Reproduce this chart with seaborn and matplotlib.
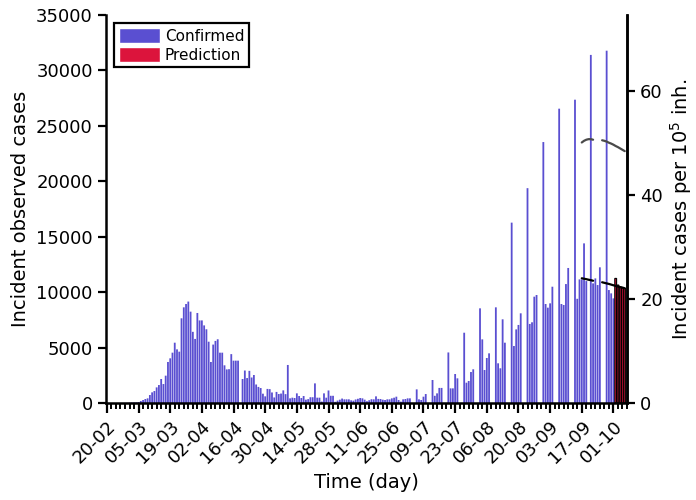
import datetime as dt
import numpy as np
import pandas as pd
import matplotlib
matplotlib.use("Agg")
import matplotlib.pyplot as plt
import seaborn as sns
from matplotlib.patches import Patch

# ---------------- data ----------------
start_date = dt.date(2020, 2, 20)

confirmed = [
    0, 0, 0, 0, 0, 1, 3, 5, 8, 13,
    30, 40, 50, 60, 90,
    180, 270, 360, 420, 720, 960, 1080, 1410, 1620, 2165, 1710, 2465, 3700, 4030,
    4540, 5440, 4840, 4630, 7640, 8630, 8930,
    9150, 8240, 6420, 5780, 8120, 7450, 7450, 7000, 6650, 5530, 3700, 5270, 5600,
    5750, 4540, 4540, 3400, 3030, 3050, 4410, 3820, 3820, 3820,
    0,
    2165, 2930, 2250, 2900, 2300, 2525, 1670, 1450, 1350, 840, 600, 1270, 1250,
    950, 500, 1000, 810, 850, 1140, 800, 3430,
    420, 480, 450, 870, 630, 450, 630, 300, 350, 520,
    520, 1770, 480, 480, 130, 870, 480, 1130, 650, 650,
    110, 220, 300, 400, 330, 330, 330, 240, 210, 320,
    380, 450, 420, 300, 160, 250, 340, 330, 600, 370,
    360, 300, 270, 330, 330, 420, 480, 570, 270, 120,
    330, 360, 420, 420, 0, 0, 1230, 330, 270, 570,
    810, 0, 0, 2075, 650, 870, 1360, 1360, 0, 0,
    4560, 1320, 1320, 2615, 2225, 0, 0, 6340, 1830, 1985,
    2795, 3040, 0, 0, 8540, 5740, 2975, 4060, 4480, 0,
    0, 8630, 3580, 3130, 7550, 5440, 0, 0, 16270, 5140,
    6640, 7040, 8090, 0, 0, 19380, 7130, 7280, 9590, 9740,
    0, 0, 23540, 8930, 8600, 8990, 10490, 0, 0, 26550,
    8930, 8840, 10730, 12180, 0, 0, 27360, 9400, 11150, 11150,
    14400, 11000, 0, 31400, 10790, 11240, 10640, 12240, 0, 0,
    31780, 10190, 9890, 9440,
]
prediction = [11240, 10640, 10490, 10430, 10340]

band_days = [210, 211, 212, 213, 214, 215, 219, 220, 221, 222, 223, 224, 225, 226, 227, 228, 229]
band_segment = [0, 0, 0, 0, 0, 0, 1, 1, 1, 1, 1, 1, 1, 1, 1, 1, 1]
upper_line = [23500, 23650, 23750, 23800, 23800, 23750,
              23700, 23650, 23580, 23480, 23400, 23300, 23180, 23080, 22960, 22840, 22720]
lower_line = [11250, 11210, 11170, 11120, 11080, 11030,
              10890, 10840, 10790, 10740, 10680, 10620, 10560, 10510, 10450, 10400, 10350]

population = 46_940_000
series_names = ["Confirmed", "Prediction"]
colors = {"Confirmed": "#5a4fd1", "Prediction": "#dc143c"}

# ---------------- figure ----------------
sns.set_theme(style="ticks")
plt.rcParams["font.family"] = ["DejaVu Sans"]
plt.rcParams["text.color"] = "black"
plt.rcParams["axes.labelcolor"] = "black"
plt.rcParams["xtick.color"] = "black"
plt.rcParams["ytick.color"] = "black"

fig = plt.figure(figsize=(6.96, 5.0), dpi=100)
ax = fig.add_axes([106 / 696, 97 / 500, 521 / 696, 388 / 500])

n_conf = len(confirmed)
df = pd.DataFrame({
    "day": np.arange(n_conf + len(prediction)),
    "cases": confirmed + prediction,
    "kind": [series_names[0]] * n_conf + [series_names[1]] * len(prediction),
})
sns.barplot(data=df, x="day", y="cases", hue="kind", palette=colors,
            native_scale=True, dodge=False, width=0.8, errorbar=None,
            legend=False, saturation=1, linewidth=0, ax=ax)

for p in ax.patches:
    p.set_snap(False)
    fc = p.get_facecolor()
    if fc[0] > 0.7:
        p.set_edgecolor("black")
        p.set_linewidth(0.8)

bdf = pd.DataFrame({"day": band_days, "seg": band_segment,
                    "upper": upper_line, "lower": lower_line})
sns.lineplot(data=bdf, x="day", y="upper", units="seg", estimator=None,
             color="#4a4a4a", lw=1.6, ax=ax)
sns.lineplot(data=bdf, x="day", y="lower", units="seg", estimator=None,
             color="black", lw=1.6, ax=ax)

# axes formatting
ax.set_xlim(-0.4, 230.0)
ax.set_ylim(0, 35000)
ax.set_yticks(np.arange(0, 35001, 5000))
ax.set_yticklabels([str(v) for v in range(0, 35001, 5000)])

major_days = list(range(0, 225, 14))
ax.set_xticks(major_days)
ax.set_xticklabels([(start_date + dt.timedelta(days=d)).strftime("%d-%m") for d in major_days],
                   rotation=45, ha="right", rotation_mode="anchor")
ax.set_xticks(list(range(0, 231, 2)), minor=True)

ax.tick_params(axis="both", which="major", labelsize=13, width=1.6, length=6,
               color="black", labelcolor="black")
ax.tick_params(axis="x", which="major", length=7)
ax.tick_params(axis="x", which="minor", width=1.4, length=4, color="black")

ax.set_xlabel("Time (day)", fontsize=14, color="black")
ax.set_ylabel("Incident observed cases", fontsize=14, color="black")

for s in ["left", "bottom", "right"]:
    ax.spines[s].set_linewidth(1.8)
    ax.spines[s].set_color("black")
ax.spines["top"].set_visible(False)

ax2 = ax.twinx()
ax2.set_ylim(0, 35000 / population * 1e5)
ax2.set_yticks([0, 20, 40, 60])
ax2.tick_params(axis="y", labelsize=13, width=1.6, length=6, color="black",
                labelcolor="black")
ax2.set_ylabel("Incident cases per 10$^5$ inh.", fontsize=14, color="black")
ax2.spines["top"].set_visible(False)
ax2.spines["right"].set_linewidth(1.8)
ax2.spines["right"].set_color("black")
ax2.spines["left"].set_visible(False)
ax2.spines["bottom"].set_visible(False)

handles = [Patch(facecolor=colors[n], label=n) for n in series_names]
leg = ax.legend(handles=handles, loc="upper left", fontsize=11, frameon=True,
                fancybox=False, edgecolor="black", framealpha=1,
                handlelength=2.7, handleheight=1.15, borderpad=0.3,
                labelspacing=0.2, handletextpad=0.3, borderaxespad=0.55)
leg.get_frame().set_linewidth(1.6)
for t in leg.get_texts():
    t.set_color("black")

fig.savefig("out.png", dpi=100)
